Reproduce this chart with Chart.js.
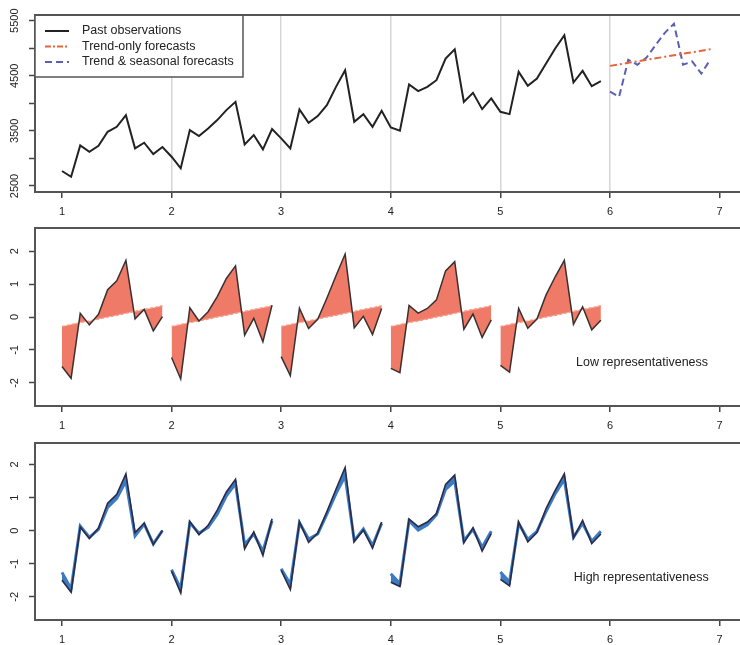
<!DOCTYPE html>
<html>
<head>
<meta charset="utf-8">
<script src="https://cdn.jsdelivr.net/npm/chart.js@4.4.0/dist/chart.umd.min.js"></script>
<style>
  body { margin: 0; background: #fff; }
  #wrap { position: relative; width: 740px; height: 645px; overflow: hidden; }
  canvas { position: absolute; left: 0; }
</style>
</head>
<body>
<div id="wrap">
  <canvas id="c1" width="740" height="215" style="top:0px"></canvas>
  <canvas id="c2" width="740" height="215" style="top:215px"></canvas>
  <canvas id="c3" width="740" height="215" style="top:430px"></canvas>
</div>
<script>
// years of monthly data, x = year + month/12
const years = [1, 2, 3, 4, 5];
const forecastYear = 6;
const xTicks = [1, 2, 3, 4, 5, 6, 7];
const gridYears = [2, 3, 4, 5, 6];

// top panel (levels)
const observed = [
  2772, 2668, 3237, 3121, 3230, 3484, 3574, 3786, 3183, 3285, 3080, 3207,
  3031, 2820, 3514, 3406, 3545, 3696, 3877, 4027, 3255, 3424, 3165, 3533,
  3364, 3183, 3889, 3647, 3768, 3967, 4299, 4601, 3665, 3804, 3574, 3864,
  3563, 3502, 4342, 4221, 4299, 4420, 4813, 4982, 4027, 4190, 3895, 4089,
  3846, 3804, 4571, 4317, 4451, 4723, 4995, 5236, 4378, 4589, 4311, 4402
];
const trendForecast = [4680, 4707, 4735, 4762, 4790, 4817, 4845, 4872, 4900, 4927, 4955, 4982];
const seasonalForecast = [4212, 4121, 4790, 4700, 4830, 5060, 5280, 5445, 4700, 4760, 4540, 4800];
const topYTicks = [2500, 3000, 3500, 4000, 4500, 5000, 5500];
const topYLabels = [2500, 3500, 4500, 5500];

// middle and bottom panels (standardised within each year)
const standardised = [
  -1.50, -1.86, 0.11, -0.24, 0.08, 0.83, 1.10, 1.72, -0.06, 0.23, -0.42, 0.01,
  -1.23, -1.88, 0.28, -0.12, 0.16, 0.62, 1.17, 1.55, -0.55, -0.04, -0.75, 0.36,
  -1.20, -1.78, 0.27, -0.35, -0.07, 0.57, 1.25, 1.91, -0.33, 0.02, -0.53, 0.26,
  -1.56, -1.69, 0.35, 0.12, 0.26, 0.52, 1.40, 1.68, -0.37, 0.09, -0.62, -0.09,
  -1.47, -1.67, 0.26, -0.34, -0.06, 0.67, 1.22, 1.72, -0.22, 0.31, -0.39, -0.10
];
const trendOnly = [-0.29, -0.23, -0.17, -0.12, -0.06, 0.00, 0.05, 0.11, 0.17, 0.23, 0.28, 0.34];
const seasonalFit = [
  -1.26, -1.76, 0.14, -0.20, 0.04, 0.70, 0.98, 1.50, -0.16, 0.20, -0.40, 0.00,
  -1.18, -1.75, 0.24, -0.08, 0.10, 0.50, 1.05, 1.42, -0.42, -0.10, -0.62, 0.30,
  -1.15, -1.62, 0.24, -0.25, -0.10, 0.50, 1.12, 1.65, -0.30, 0.05, -0.45, 0.22,
  -1.30, -1.60, 0.30, 0.02, 0.18, 0.48, 1.25, 1.50, -0.30, 0.04, -0.50, -0.02,
  -1.25, -1.55, 0.22, -0.26, -0.02, 0.58, 1.12, 1.55, -0.20, 0.22, -0.32, -0.02
];
const stdYTicks = [-2, -1, 0, 1, 2];

const FONT = "'Liberation Sans', Arial, Helvetica, sans-serif";
const BOX = '#555';

const pts = (vals, startYear) => vals.map((v, i) => ({ x: startYear + i / 12, y: v }));
const yearSlice = (arr, y) => arr.slice((y - 1) * 12, y * 12);

// y labels in R are written vertically
const rotatedY = {
  id: 'rotatedY',
  afterDraw(chart, args, opts) {
    const s = chart.scales.y, ctx = chart.ctx;
    ctx.save();
    ctx.font = '11px ' + FONT;
    ctx.fillStyle = '#222';
    ctx.textAlign = 'center';
    ctx.textBaseline = 'middle';
    opts.labels.forEach(v => {
      ctx.save();
      ctx.translate(15, s.getPixelForValue(v));
      ctx.rotate(-Math.PI / 2);
      ctx.fillText(String(v), 0, 0);
      ctx.restore();
    });
    ctx.restore();
  }
};

// top edge of the plot box
const boxTop = {
  id: 'boxTop',
  afterDraw(chart) {
    const a = chart.chartArea, ctx = chart.ctx;
    ctx.save();
    ctx.strokeStyle = BOX;
    ctx.lineWidth = 2;
    ctx.beginPath();
    ctx.moveTo(a.left - 1, a.top);
    ctx.lineTo(chart.width, a.top);
    ctx.stroke();
    ctx.restore();
  }
};

const note = {
  id: 'note',
  afterDraw(chart, args, opts) {
    if (!opts.text) return;
    const ctx = chart.ctx;
    ctx.save();
    ctx.font = '12.5px ' + FONT;
    ctx.fillStyle = '#222';
    ctx.textBaseline = 'middle';
    ctx.fillText(opts.text, chart.scales.x.getPixelForValue(opts.x), chart.scales.y.getPixelForValue(opts.y));
    ctx.restore();
  }
};

const legendBox = {
  id: 'legendBox',
  afterDatasetsDraw(chart, args, opts) {
    if (!opts.items) return;
    const a = chart.chartArea, ctx = chart.ctx;
    ctx.save();
    ctx.fillStyle = '#fff';
    ctx.fillRect(a.left, a.top, 208, 62);
    ctx.strokeStyle = BOX;
    ctx.lineWidth = 1.5;
    ctx.strokeRect(a.left, a.top, 208, 62);
    ctx.font = '12.5px ' + FONT;
    ctx.textBaseline = 'middle';
    opts.items.forEach((it, i) => {
      const y = a.top + 16 + i * 15.5;
      ctx.strokeStyle = it.color;
      ctx.lineWidth = 2;
      ctx.setLineDash(it.dash);
      ctx.beginPath();
      ctx.moveTo(a.left + 10, y);
      ctx.lineTo(a.left + 34, y);
      ctx.stroke();
      ctx.setLineDash([]);
      ctx.fillStyle = '#222';
      ctx.fillText(it.label, a.left + 47, y);
    });
    ctx.restore();
  }
};

function options(yMin, yMax, yTicks, yLabels, padTop, xHeight, withGrid) {
  return {
    responsive: false,
    animation: false,
    layout: { padding: { top: padTop, left: 0, right: 0, bottom: 0 } },
    elements: { point: { radius: 0 }, line: { tension: 0 } },
    plugins: {
      legend: { display: false },
      tooltip: { enabled: false },
      filler: { drawTime: 'beforeDatasetsDraw' },
      rotatedY: { labels: yLabels }
    },
    scales: {
      x: {
        type: 'linear', min: 0.754, max: 7.186,
        afterBuildTicks: s => { s.ticks = xTicks.map(v => ({ value: v })); },
        afterFit: s => { s.height = xHeight; },
        grid: {
          drawOnChartArea: withGrid,
          color: c => (withGrid && c.tick && gridYears.includes(c.tick.value)) ? '#d6d6d6' : 'rgba(0,0,0,0)',
          lineWidth: 1.5,
          tickColor: '#444', tickLength: 6, tickWidth: 1.5
        },
        border: { display: true, color: BOX, width: 2 },
        ticks: { color: '#222', font: { family: FONT, size: 11 }, padding: 7, maxRotation: 0, autoSkip: false, callback: v => String(v) }
      },
      y: {
        min: yMin, max: yMax,
        afterBuildTicks: s => { s.ticks = yTicks.map(v => ({ value: v })); },
        afterFit: s => { s.width = 35; },
        grid: { drawOnChartArea: false, tickColor: '#444', tickLength: 6, tickWidth: 1.5 },
        border: { display: true, color: BOX, width: 2 },
        ticks: { display: false }
      }
    }
  };
}

// top panel
const opt1 = options(2391, 5603, topYTicks, topYLabels, 15, 23, true);
opt1.plugins.legendBox = {
  items: [
    { label: 'Past observations', color: '#222', dash: [] },
    { label: 'Trend-only forecasts', color: '#E8643C', dash: [6, 2, 2, 2] },
    { label: 'Trend & seasonal forecasts', color: '#5a5fb4', dash: [7, 4] }
  ]
};
new Chart(document.getElementById('c1'), {
  type: 'line',
  data: {
    datasets: [
      { data: pts(observed, 1), borderColor: '#222', borderWidth: 2 },
      { data: pts(trendForecast, forecastYear), borderColor: '#E8643C', borderWidth: 2, borderDash: [7, 3, 2, 3] },
      { data: pts(seasonalForecast, forecastYear), borderColor: '#5a5fb4', borderWidth: 2, borderDash: [7, 4] }
    ]
  },
  options: opt1,
  plugins: [rotatedY, boxTop, legendBox]
});

// middle panel: actual vs trend only
const midSets = [];
years.forEach(y => {
  midSets.push({ data: pts(yearSlice(standardised, y), y), borderColor: '#3a3030', borderWidth: 1.5,
    fill: '+1', backgroundColor: '#F07A68', order: 0 });
  midSets.push({ data: pts(trendOnly, y), borderColor: '#F49A8A', borderWidth: 1.5, borderDash: [3, 2], order: 1 });
});
const opt2 = options(-2.7, 2.7, stdYTicks, stdYTicks, 13, 24, false);
opt2.plugins.note = { text: 'Low representativeness', x: 5.69, y: -1.39 };
new Chart(document.getElementById('c2'), {
  type: 'line',
  data: { datasets: midSets },
  options: opt2,
  plugins: [rotatedY, boxTop, note]
});

// bottom panel: actual vs trend & seasonal
const lowSets = [];
years.forEach(y => {
  lowSets.push({ data: pts(yearSlice(standardised, y), y), borderColor: '#2b2b45', borderWidth: 1.6,
    fill: '+1', backgroundColor: '#3C7BC4', order: 0 });
  lowSets.push({ data: pts(yearSlice(seasonalFit, y), y), borderColor: '#3C7BC4', borderWidth: 3, order: 1 });
});
const opt3 = options(-2.7, 2.65, stdYTicks, stdYTicks, 13, 25, false);
opt3.plugins.note = { text: 'High representativeness', x: 5.67, y: -1.42 };
new Chart(document.getElementById('c3'), {
  type: 'line',
  data: { datasets: lowSets },
  options: opt3,
  plugins: [rotatedY, boxTop, note]
});
</script>
</body>
</html>
